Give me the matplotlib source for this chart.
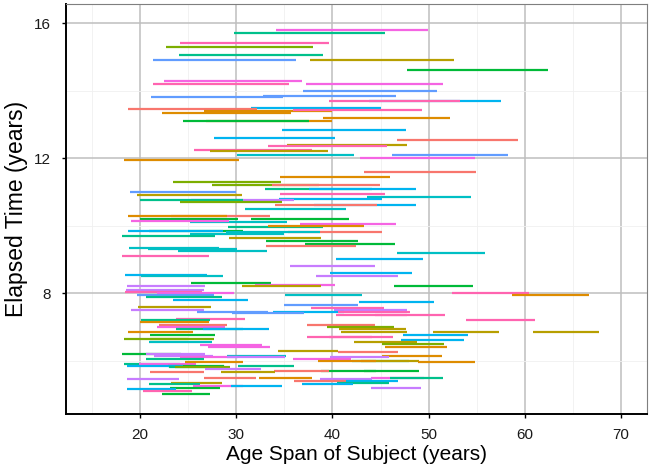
import matplotlib
matplotlib.use("Agg")
import matplotlib.pyplot as plt
import numpy as np
from matplotlib.ticker import MultipleLocator

# ggplot-style hue palette, one letter per colour group
palette = {
    "r": "#F8766D", "o": "#DE8C00", "m": "#B79F00", "g": "#7CAE00",
    "G": "#00BA38", "t": "#00C08B", "c": "#00BFC4", "s": "#00B4F0",
    "b": "#619CFF", "v": "#C77CFF", "M": "#F564E3", "p": "#FF64B0",
}

# age at start of follow-up (years)
start_age = [
    34.1, 29.8, 24.2, 22.7, 24.0, 21.3, 37.7, 47.8,
    22.5, 21.3, 37.3, 36.9, 21.1, 32.8, 43.8, 39.6, 31.5, 18.75, 26.6, 35.9, 22.3, 39.0, 26.9, 24.5,
    34.8, 27.7, 46.75, 35.3, 33.3, 25.65, 27.3, 30.1, 46.2, 42.85, 18.3, 43.3, 34.5,
    23.4, 27.45, 33.7, 33.0, 37.6, 19.0, 34.5, 43.6, 19.7, 34.4, 25.3, 20.0, 24.1, 38.1, 34.0, 30.9,
    23.2, 18.7, 20.0, 31.5, 25.2, 19.1, 36.6, 29.1, 33.3, 20.9,
    18.75, 35.4, 28.9, 25.2, 18.1, 29.2, 33.1, 37.1, 33.1, 18.9, 20.8, 23.9, 46.7, 18.1, 40.4,
    35.6, 39.7, 18.4, 38.3, 20.1,
    25.3, 32.0, 18.6, 30.6, 46.4, 18.5, 18.4, 21.8, 52.4, 58.7, 35.1, 19.7, 20.6, 23.4, 42.8,
    35.0, 19.8, 37.8, 40.2, 19.1, 25.9, 33.8, 40.6, 29.6, 40.4, 44.4, 23.7, 20.1, 53.9, 20.0,
    22.0, 37.4, 21.8,
    23.7, 26.5, 39.4, 40.7, 18.7, 40.9, 50.5, 60.9, 21.0, 47.3, 37.4, 39.6, 18.3, 21.0, 20.9,
    47.1, 42.2, 45.1, 26.2, 27.1, 45.5, 34.3, 40.6, 18.1, 20.6, 29.0, 45.2, 21.4, 24.1, 29.0,
    39.75, 35.9, 20.6, 42.0, 43.0, 38.5, 48.9, 18.3, 19.9, 24.7, 30.2, 22.9, 18.6,
    23.05, 23.6, 26.8, 38.8, 33.9, 43.3, 28.4, 21.0, 32.4, 44.0, 26.6, 46.0, 38.7, 18.6, 36.0,
    41.4, 40.5, 23.2, 36.8, 20.9, 25.5, 29.5, 23.1, 44.0, 18.6, 20.3, 22.3,
]

# elapsed time between first and last visit (years)
elapsed = [
    15.8, 15.7, 15.4, 15.3, 15.05, 14.9, 14.9, 14.6,
    14.3, 14.2, 14.2, 14.0, 13.8, 13.85, 13.7, 13.7, 13.5, 13.45, 13.4, 13.43, 13.35, 13.2, 13.1, 13.1,
    12.85, 12.6, 12.55, 12.4, 12.35, 12.25, 12.2, 12.1, 12.1, 12.0, 11.95, 11.6, 11.45,
    11.3, 11.2, 11.2, 11.1, 11.1, 11.0, 10.95, 10.85, 10.9, 10.8, 10.75, 10.75, 10.7, 10.6, 10.6, 10.5,
    10.3, 10.3, 10.2, 10.2, 10.1, 10.15, 10.05, 9.95, 10.0, 9.85,
    9.85, 9.8, 9.8, 9.75, 9.7, 9.65, 9.55, 9.45, 9.4, 9.35, 9.3, 9.25, 9.2, 9.1, 9.0,
    8.8, 8.6, 8.55, 8.5, 8.5,
    8.3, 8.25, 8.2, 8.2, 8.2, 8.1, 8.05, 8.0, 8.0, 7.95, 7.95, 7.95, 7.9, 7.8, 7.75,
    7.65, 7.6, 7.55, 7.5, 7.5, 7.45, 7.45, 7.45, 7.4, 7.35, 7.35, 7.25, 7.2, 7.2, 7.15,
    7.05, 7.05, 7.0,
    6.95, 6.95, 7.0, 6.95, 6.85, 6.85, 6.85, 6.85, 6.75, 6.75, 6.7, 6.7, 6.65, 6.65, 6.55,
    6.6, 6.55, 6.5, 6.45, 6.4, 6.4, 6.3, 6.25, 6.2, 6.2, 6.15, 6.15, 6.15, 6.1, 6.1,
    6.1, 6.05, 6.05, 6.0, 6.0, 6.0, 5.95, 5.9, 5.9, 5.95, 5.85, 5.85, 5.85,
    5.8, 5.8, 5.75, 5.7, 5.7, 5.7, 5.65, 5.65, 5.5, 5.5, 5.5, 5.5, 5.45, 5.45, 5.4,
    5.4, 5.35, 5.35, 5.3, 5.3, 5.25, 5.25, 5.2, 5.2, 5.15, 5.1, 5.0,
]

# colour group of each subject, same order as above
groups = list("".join([
    "MtpgtbmG",
    "MpMbbbspsropoooG",
    "ssrmppmcbMoro",
    "ggrtsbpcmsvtgsrc", "roGGcMMtoG",
    "srcctmGGrccccps", "vssvc",
    "GMvmGvpMpocbtss", "bmpvvbspbppptpo", "rrM",
    "tsgmommmGsppggc", "smgMMomrGvcovMv", "vMttmootMotGs",
    "tgvGrGmroMrtvvr", "stmstMsGvspG",
]))

x_ticks = [20, 30, 40, 50, 60, 70]
y_ticks = [8, 12, 16]

fig = plt.figure(figsize=(6.59, 4.66), dpi=100)
ax = fig.add_axes([66 / 659, 52 / 466, 581 / 659, 410 / 466])

sa = np.array(start_age)
el = np.array(elapsed)
cols = [palette[g] for g in groups]
ax.hlines(el, sa, sa + el, colors=cols, linewidth=1.6, zorder=3)

ax.set_xlim(12.3, 72.7)
ax.set_ylim(4.42, 16.57)
ax.set_xticks(x_ticks)
ax.set_yticks(y_ticks)
ax.xaxis.set_minor_locator(MultipleLocator(5))
ax.yaxis.set_minor_locator(MultipleLocator(2))
ax.grid(True, which="major", color="#BEBEBE", linewidth=1.1, zorder=0)
ax.grid(True, which="minor", color="#F0F0F0", linewidth=0.6, zorder=0)
ax.set_axisbelow(True)

ax.tick_params(which="minor", length=0)
ax.tick_params(which="major", length=3, width=1, color="black",
               labelsize=11, labelcolor="#1A1A1A")
ax.tick_params(axis="x", pad=7)
ax.tick_params(axis="y", pad=8)
for lab in ax.get_xticklabels() + ax.get_yticklabels():
    lab.set_family("Liberation Sans")

for side in ["top", "right"]:
    ax.spines[side].set_color("#7F7F7F")
    ax.spines[side].set_linewidth(0.8)
for side in ["left", "bottom"]:
    ax.spines[side].set_color("black")
    ax.spines[side].set_linewidth(1.4)

ax.set_xlabel("Age Span of Subject (years)", fontsize=15, family="Liberation Sans", labelpad=2)
ax.set_ylabel("Elapsed Time (years)", fontsize=16.5, family="Liberation Sans", labelpad=4)

fig.savefig("out.png", dpi=100)
